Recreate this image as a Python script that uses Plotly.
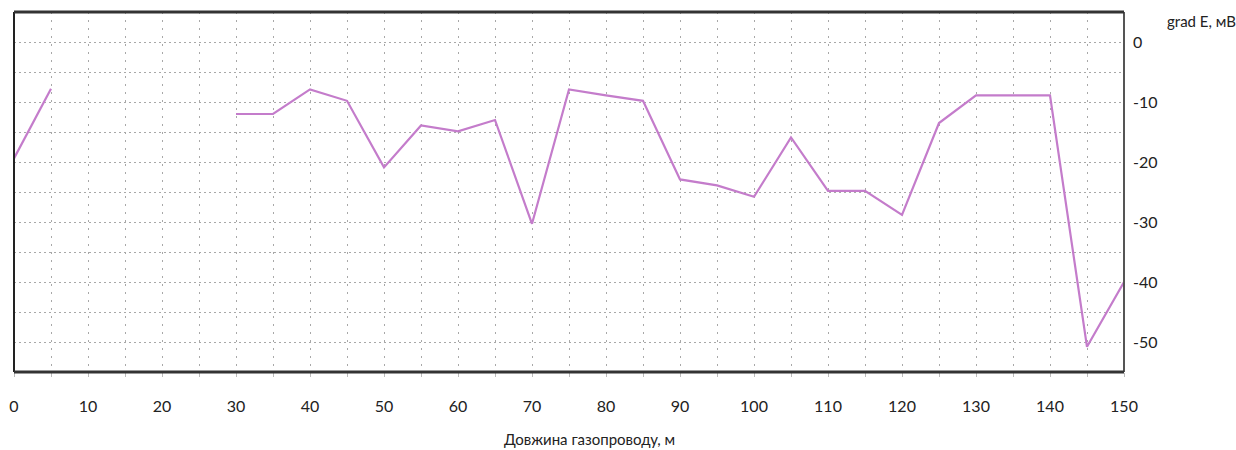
import plotly.graph_objects as go

# Measurement positions along the pipeline (m) and potential gradient (mV)
distance_m = [0, 5, 10, 15, 20, 25, 30, 35, 40, 45, 50, 55, 60, 65, 70, 75,
              80, 85, 90, 95, 100, 105, 110, 115, 120, 125, 130, 135, 140, 145, 150]
grad_e_mv = [-19.4, -7.8, None, None, None, None, -12.0, -12.0, -7.9, -9.8,
             -20.9, -13.9, -14.9, -13.0, -30.3, -7.9, -8.9, -9.8, -22.9, -23.9,
             -25.8, -15.9, -24.8, -24.8, -28.8, -13.5, -8.9, -8.9, -8.9, -50.8, -40.0]

x_tick_vals = [0, 10, 20, 30, 40, 50, 60, 70, 80, 90, 100, 110, 120, 130, 140, 150]
y_tick_vals = [0, -10, -20, -30, -40, -50]
y_tick_text = ["0", "-10", "-20", "-30", "-40", "-50"]

x_title = "Довжина газопроводу, м"
y_title = "grad E, мВ"

FONT = "Lato"
TEXT = "#222222"
GRID = "#a8a8a8"

fig = go.Figure()
fig.add_trace(go.Scatter(
    x=distance_m, y=grad_e_mv, mode="lines", connectgaps=False,
    line=dict(color="#c47ccb", width=2.2), showlegend=False,
))

fig.update_layout(
    width=1236, height=450,
    margin=dict(l=9, r=112, t=12, b=78),
    paper_bgcolor="white", plot_bgcolor="white",
    font=dict(family=FONT, size=16, color=TEXT),
    xaxis=dict(
        range=[0, 150], tickvals=x_tick_vals, showline=False, zeroline=False,
        showgrid=True, gridcolor=GRID, gridwidth=1, griddash="2px,6px",
        ticks="outside", ticklen=4, tickcolor="#bbbbbb",
        ticklabelstandoff=16,
        minor=dict(dtick=5, tick0=0, showgrid=True, gridcolor=GRID, gridwidth=1,
                   griddash="2px,6px", ticks="outside", ticklen=4, tickcolor="#bbbbbb"),
    ),
    yaxis=dict(
        range=[-55, 5], side="right", tickvals=y_tick_vals, ticktext=y_tick_text,
        showline=False, zeroline=False, showgrid=True, gridcolor=GRID, gridwidth=1,
        griddash="2px,3px", ticks="", ticklabelstandoff=8,
        minor=dict(dtick=5, tick0=0, showgrid=True, gridcolor=GRID, gridwidth=1,
                   griddash="2px,3px"),
    ),
    annotations=[
        dict(text=x_title, xref="paper", yref="paper", x=0.5185, y=-0.185,
             xanchor="center", yanchor="middle", showarrow=False,
             font=dict(family=FONT, size=15, color=TEXT)),
        dict(text=y_title, xref="paper", yref="paper", x=1.0365, y=0.975,
             xanchor="left", yanchor="middle", showarrow=False,
             font=dict(family=FONT, size=15, color=TEXT)),
    ],
    shapes=[
        # plot frame
        dict(type="line", xref="paper", yref="paper", x0=0, x1=0, y0=0, y1=1,
             line=dict(color="#222222", width=2)),
        dict(type="line", xref="paper", yref="paper", x0=1, x1=1, y0=0, y1=1,
             line=dict(color="#555555", width=2)),
        dict(type="line", xref="paper", yref="paper", x0=0, x1=1, y0=1, y1=1,
             line=dict(color="#333333", width=3)),
        dict(type="line", xref="paper", yref="paper", x0=0, x1=1, y0=0, y1=0,
             line=dict(color="#333333", width=3)),
    ],
)

fig.write_html("out.html")
